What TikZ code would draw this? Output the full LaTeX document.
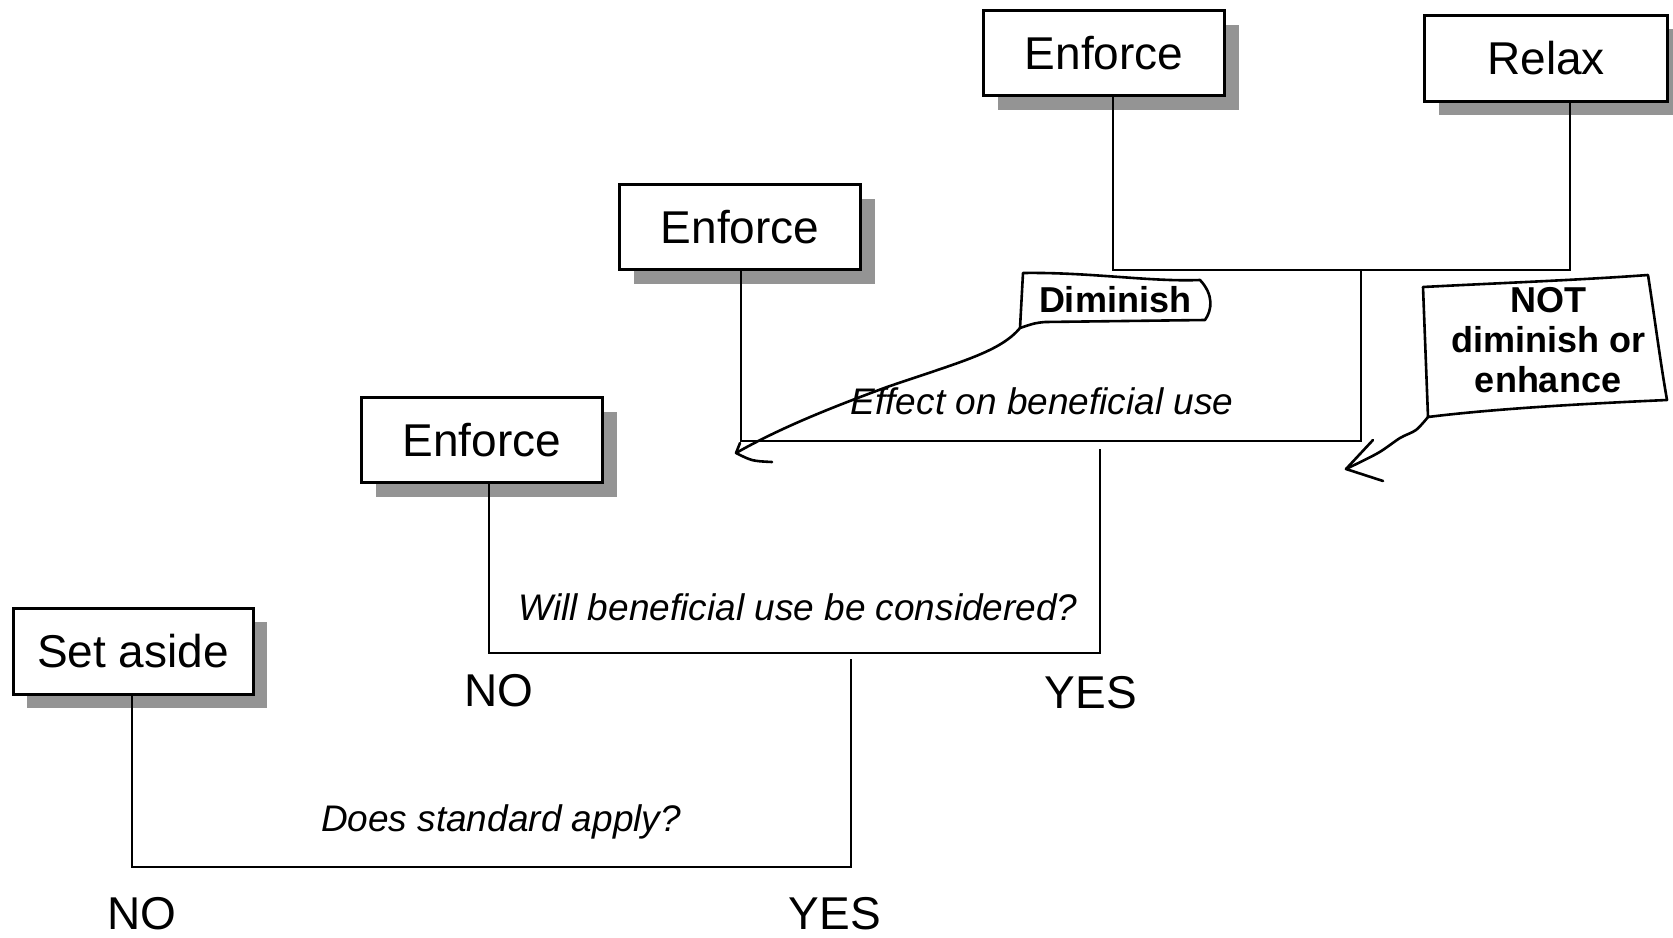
\documentclass[tikz,border=0pt]{standalone}
\usepackage{fontspec}
\setmainfont{Liberation Sans}
\usetikzlibrary{shadows}
\begin{document}
\begin{tikzpicture}[x=1pt,y=-1pt,
  box/.style={draw, line width=3pt, fill=white, minimum width=241pt, minimum height=85pt, inner sep=0pt,
    font=\fontsize{46}{50}\selectfont,
    drop shadow={shadow xshift=14pt, shadow yshift=-14pt, fill=black!42, opacity=1}},
  wire/.style={line width=2.6pt},
  q/.style={font=\fontsize{37}{42}\selectfont\itshape},
  ans/.style={font=\fontsize{46}{50}\selectfont},
  hand/.style={line width=2.6pt, line join=round, line cap=round},
  call/.style={font=\fontsize{36}{40}\selectfont\bfseries, align=center, inner sep=0pt}]
\useasboundingbox (0,0) rectangle (1673,937);
\clip (0,0) rectangle (1673,937);

% boxes
\node[box] (etop) at (1104,53) {Enforce};
\node[box, minimum width=243pt, minimum height=86pt] (relax) at (1546,58) {Relax};
\node[box] (emid) at (740,227) {Enforce};
\node[box] (elow) at (482,440) {Enforce};
\node[box, minimum width=240pt, minimum height=86pt] (aside) at (133,651) {Set aside};

% fork corners
\coordinate (a1) at (132,867); \coordinate (a2) at (851,867); \coordinate (a3) at (851,659);
\coordinate (b1) at (489,653); \coordinate (b2) at (1100,653); \coordinate (b3) at (1100,449);
\coordinate (m1) at (741,441); \coordinate (m2) at (1361,441); \coordinate (m3) at (1361,270);
\coordinate (t1) at (1113,270); \coordinate (t2) at (1570,270);

\draw[wire] (aside.south -| a1) -- (a1) -- (a2) -- (a3);
\draw[wire] (elow.south -| b1) -- (b1) -- (b2) -- (b3);
\draw[wire] (emid.south -| m1) -- (m1) -- (m2) -- (m3);
\draw[wire] (etop.south -| t1) -- (t1) -- (t2) -- (relax.south -| t2);

% questions and answers
\node[q] (q1) at (501,822) {Does standard apply?};
\node[ans] (no1) at (142,914) {NO};
\node[ans] (yes1) at (835,914) {YES};
\node[q] (q2) at (798,607) {Will beneficial use be considered?};
\node[ans] (no2) at (499,691) {NO};
\node[ans] (yes2) at (1091,693) {YES};
\node[q] (q3) at (1042,401) {Effect on beneficial use};

% Diminish callout
\node[call] (dim) at (1115,300) {Diminish};
\draw[hand] (1023,273) .. controls (1090,272) and (1150,282) .. (1200,280)
  .. controls (1214,295) and (1212,310) .. (1205,320) -- (1045,322)
  .. controls (1035,323) .. (1020,328) -- cycle;
\coordinate (dimtip) at (736,453);
\draw[hand] (1020,328) .. controls (1000,352) and (960,362) .. (887,387)
  .. controls (830,408) and (780,428) .. (dimtip);
\draw[hand] (740,443) -- (dimtip) .. controls (752,461) .. (772,462);

% NOT callout
\node[call] (notl) at (1548,340) {NOT\\diminish or\\enhance};
\draw[hand] (1423,287) .. controls (1500,283) and (1580,280) .. (1648,275)
  .. controls (1655,320) and (1660,360) .. (1667,400)
  .. controls (1600,403) and (1500,408) .. (1428,417) -- cycle;
\coordinate (nottip) at (1346,469);
\draw[hand] plot[smooth] coordinates {(1428,417) (1416,430) (1400,438) (1378,453) (1346,469)};
\draw[hand] (1373,440) -- (nottip) -- (1383,481);
\end{tikzpicture}
\end{document}
